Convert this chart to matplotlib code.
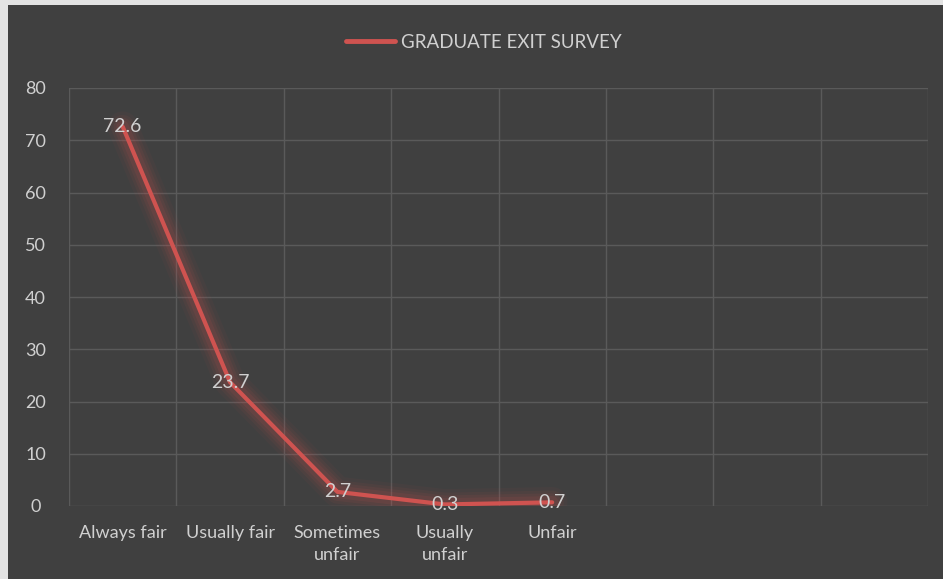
import matplotlib
matplotlib.use("Agg")
import matplotlib.pyplot as plt
from matplotlib.patches import Rectangle
from matplotlib.lines import Line2D

categories = ["Always fair", "Usually fair", "Sometimes\nunfair", "Usually\nunfair", "Unfair", "", "", ""]
values = [72.6, 23.7, 2.7, 0.3, 0.7]
yticks = [0, 10, 20, 30, 40, 50, 60, 70, 80]
series_name = "GRADUATE EXIT SURVEY"

BG = "#404040"
GRID = "#5a5a5a"
TXT = "#d0d0d0"
RED = "#cf5350"
FONT = "Lato"

W, H = 943, 579
fig = plt.figure(figsize=(W / 100, H / 100), dpi=100, facecolor=BG)
# light border strips (left and top)
fig.patches.append(Rectangle((0, 0), 8 / W, 1, transform=fig.transFigure,
                             facecolor="#e3e3e3", edgecolor="none", zorder=-5))
fig.patches.append(Rectangle((0, 1 - 5 / H), 1, 5 / H, transform=fig.transFigure,
                             facecolor="#e3e3e3", edgecolor="none", zorder=-5))

ax = fig.add_axes([69 / W, (H - 506) / H, (928 - 69) / W, (506 - 88) / H])
ax.set_facecolor(BG)

n = len(categories)
ax.set_xlim(-0.5, n - 0.5)
ax.set_ylim(0, 80)
ax.set_yticks(yticks)
ax.set_xticks(range(n))
ax.set_xticklabels(categories, fontfamily=FONT, fontsize=13, color=TXT, linespacing=1.45)
ax.set_yticklabels([str(v) for v in yticks], fontfamily=FONT, fontsize=13, color=TXT)
ax.tick_params(axis="both", length=0)
ax.tick_params(axis="x", pad=14)
ax.tick_params(axis="y", pad=24)
for lbl in ax.get_yticklabels():
    lbl.set_horizontalalignment("center")

# vertical grid at category boundaries, horizontal grid at ticks
ax.set_xticks([i - 0.5 for i in range(n + 1)], minor=True)
ax.grid(True, which="minor", axis="x", color=GRID, linewidth=1.0)
ax.grid(True, which="major", axis="y", color=GRID, linewidth=1.0)
ax.tick_params(axis="x", which="minor", length=0)
for s in ax.spines.values():
    s.set_visible(False)
ax.set_axisbelow(True)

x = list(range(len(values)))
# glow
for lw, a in [(22, 0.05), (17, 0.07), (13, 0.09), (9, 0.12)]:
    ax.plot(x, values, color="#c0504d", linewidth=lw, alpha=a, solid_joinstyle="round",
            solid_capstyle="round", zorder=2)
ax.plot(x, values, color=RED, linewidth=3.0, solid_joinstyle="round",
        solid_capstyle="round", zorder=3)

for xi, v in zip(x, values):
    ax.text(xi, v, f"{v}", ha="center", va="center", fontfamily=FONT, fontsize=14,
            color=TXT, zorder=4)

handle = Line2D([], [], color=RED, linewidth=3.5, solid_capstyle="round")
leg = fig.legend([handle], [series_name], loc="center", bbox_to_anchor=(484 / W, 1 - 42 / H),
                 frameon=False, handlelength=2.6, handletextpad=0.3,
                 prop={"family": FONT, "size": 13.5})
for t in leg.get_texts():
    t.set_color(TXT)

fig.savefig("out.png", dpi=100, facecolor=fig.get_facecolor())
